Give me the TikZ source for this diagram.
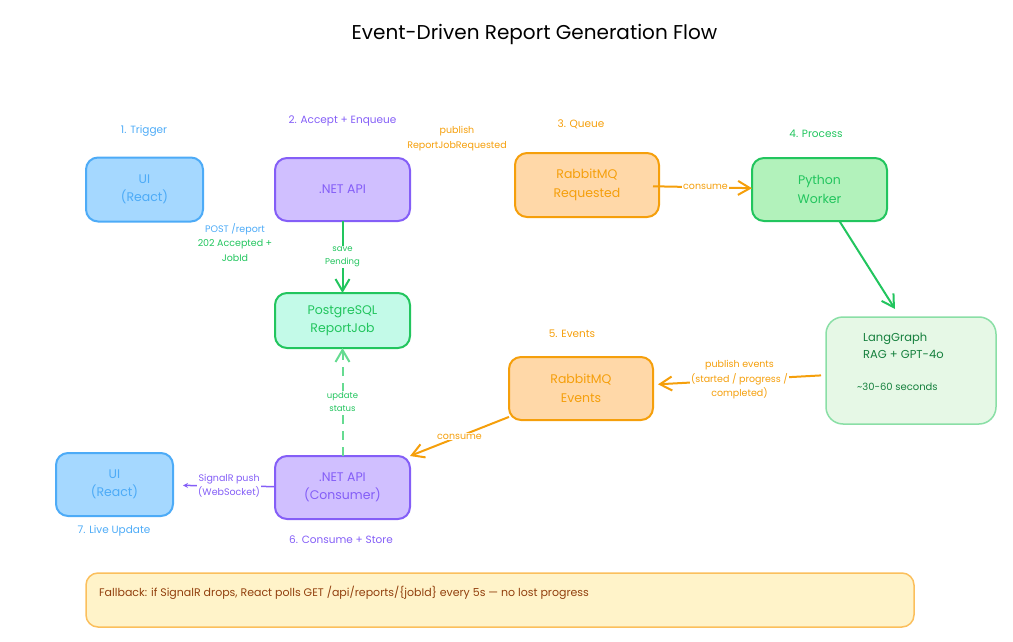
\documentclass[tikz,border=0pt]{standalone}
\usepackage{fontspec}
\setmainfont{Poppins}
\usetikzlibrary{arrows.meta}
\definecolor{uiblue}{HTML}{4DABF7}
\definecolor{uifill}{HTML}{A5D8FF}
\definecolor{apipurple}{HTML}{845EF7}
\definecolor{apifill}{HTML}{D0BFFF}
\definecolor{mqorange}{HTML}{F59F0B}
\definecolor{mqfill}{HTML}{FFD8A8}
\definecolor{okgreen}{HTML}{22C55E}
\definecolor{pgfill}{HTML}{C3FAE8}
\definecolor{pyfill}{HTML}{B2F2BB}
\definecolor{lgfill}{HTML}{E6F8E6}
\definecolor{lgstroke}{HTML}{8ADFA6}
\definecolor{lgtext}{HTML}{15803D}
\definecolor{dashgreen}{HTML}{66DB91}
\definecolor{notefill}{HTML}{FFF3C9}
\definecolor{notestroke}{HTML}{FBBF5C}
\definecolor{notetext}{HTML}{92400E}
\tikzset{
    box/.style={draw, rounded corners=12pt, line width=2pt, align=center, inner sep=0pt, outer sep=0pt,
        font=\fontsize{12.5}{18.5}\selectfont},
    uibox/.style={box, draw=uiblue, fill=uifill, text=uiblue},
    apibox/.style={box, draw=apipurple, fill=apifill, text=apipurple},
    mqbox/.style={box, draw=mqorange, fill=mqfill, text=mqorange},
    stepnote/.style={font=\fontsize{10.5}{13}\selectfont, inner sep=0pt},
    edgenote/.style={font=\fontsize{9.5}{14.3}\selectfont, align=center, inner sep=1pt, fill=white},
    barb/.style={-{Straight Barb[length=12pt,width=14pt,line width=2pt]}},
}
\newcommand{\drawstepnote}[4]{
    \node [stepnote, text=#1] (#2) at (#3) {#4};
}
\begin{document}
\begin{tikzpicture}[x=1pt, y=-1pt]
    \useasboundingbox (0,0) rectangle (1013,642);
    \node [font=\fontsize{20}{24}\selectfont, inner sep=0pt] (title) at (534.5,34) {Event-Driven Report Generation Flow};
    % top row
    \node [uibox, minimum width=117pt, minimum height=64pt] (uitrigger) at (144.5,189.5) {UI\\(React)};
    \node [apibox, minimum width=135pt, minimum height=63pt] (apiaccept) at (342.5,189.5) {.NET API};
    \node [box, draw=okgreen, fill=pgfill, text=okgreen, minimum width=135pt, minimum height=55pt] (pgjob) at (342.5,320.5) {PostgreSQL\\ReportJob};
    \node [mqbox, minimum width=144pt, minimum height=64pt] (mqrequested) at (587,185) {RabbitMQ\\Requested};
    \node [box, draw=okgreen, fill=pyfill, text=okgreen, minimum width=135pt, minimum height=63pt] (pyworker) at (819.5,189.5) {Python\\Worker};
    % bottom row
    \node [box, draw=lgstroke, fill=lgfill, line width=1.5pt, rounded corners=17pt, minimum width=170pt, minimum height=107pt] (langgraph) at (911,370.5) {};
    \node [mqbox, minimum width=144pt, minimum height=63pt] (mqevents) at (581,388.5) {RabbitMQ\\Events};
    \node [apibox, minimum width=135pt, minimum height=63pt] (apiconsumer) at (342.5,487.5) {.NET API\\(Consumer)};
    \node [uibox, minimum width=117pt, minimum height=63pt] (uilive) at (114.5,484.5) {UI\\(React)};
    \node [box, draw=notestroke, fill=notefill, line width=1.5pt, minimum width=828pt, minimum height=54pt] (fallback) at (500,600) {};
    % text inside langgraph and fallback
    \node [anchor=west, inner sep=0pt, text=lgtext, align=left, font=\fontsize{11.5}{17}\selectfont] (lgname) at (863,345.5) {LangGraph\\RAG + GPT-4o};
    \node [anchor=west, inner sep=0pt, text=lgtext, font=\fontsize{10}{13}\selectfont] (lgtime) at (857,387) {\textasciitilde 30-60 seconds};
    \node [anchor=west, inner sep=0pt, text=notetext, font=\fontsize{11}{13}\selectfont] (fallbacktext) at (99,593) {Fallback: if SignalR drops, React polls GET /api/reports/\{jobId\} every 5s — no lost progress};
    % step labels
    \drawstepnote{uiblue}{steptrigger}{144,131}{1. Trigger}
    \drawstepnote{apipurple}{stepaccept}{342.5,121}{2. Accept + Enqueue}
    \drawstepnote{mqorange}{stepqueue}{581,124}{3. Queue}
    \drawstepnote{okgreen}{stepprocess}{816,134}{4. Process}
    \drawstepnote{mqorange}{stepevents}{572,334}{5. Events}
    \drawstepnote{apipurple}{stepstore}{341,540}{6. Consume + Store}
    \drawstepnote{uiblue}{steplive}{114,531}{7. Live Update}
    % labels without a line
    \node [edgenote, fill=none, text=mqorange] (publishnote) at (457,138.5) {publish\\ReportJobRequested};
    \node [edgenote, fill=none, text=uiblue] (postnote) at (235,229) {POST /report};
    \node [edgenote, fill=none, text=okgreen] (acceptednote) at (235,250.5) {202 Accepted +\\JobId};
    % connectors
    \draw [barb, draw=okgreen, line width=2pt] (apiaccept) -- node[edgenote, text=okgreen, font=\fontsize{8.5}{13}\selectfont] (savenote) {save\\Pending} (pgjob);
    \draw [barb, draw=mqorange, line width=2pt, shorten <=-6pt] (mqrequested) -- node[edgenote, text=mqorange] (consumeone) {consume} (pyworker);
    \coordinate (langtop) at (895,309);
    \draw [barb, draw=okgreen, line width=2pt] (pyworker) -- (langtop);
    \draw [barb, draw=mqorange, line width=2pt, shorten <=5pt, shorten >=5pt] (langgraph) -- node[edgenote, text=mqorange] (publishevents) {publish events\\(started / progress /\\completed)} (mqevents);
    \draw [barb, draw=mqorange, line width=2pt] (mqevents) -- node[edgenote, text=mqorange] (consumetwo) {consume} (apiconsumer.north east);
    \draw [barb, draw=dashgreen, line width=2pt, dashed, dash pattern=on 9pt off 7pt] (apiconsumer) -- node[edgenote, text=okgreen, font=\fontsize{8.5}{13}\selectfont] (updatenote) {update\\status} (pgjob);
    \draw [-{Stealth[length=5pt,width=5pt]}, draw=apipurple, line width=1.5pt, shorten >=10pt] (apiconsumer) -- node[edgenote, text=apipurple, pos=0.45] (pushnote) {SignalR push\\(WebSocket)} (uilive);
\end{tikzpicture}
\end{document}
